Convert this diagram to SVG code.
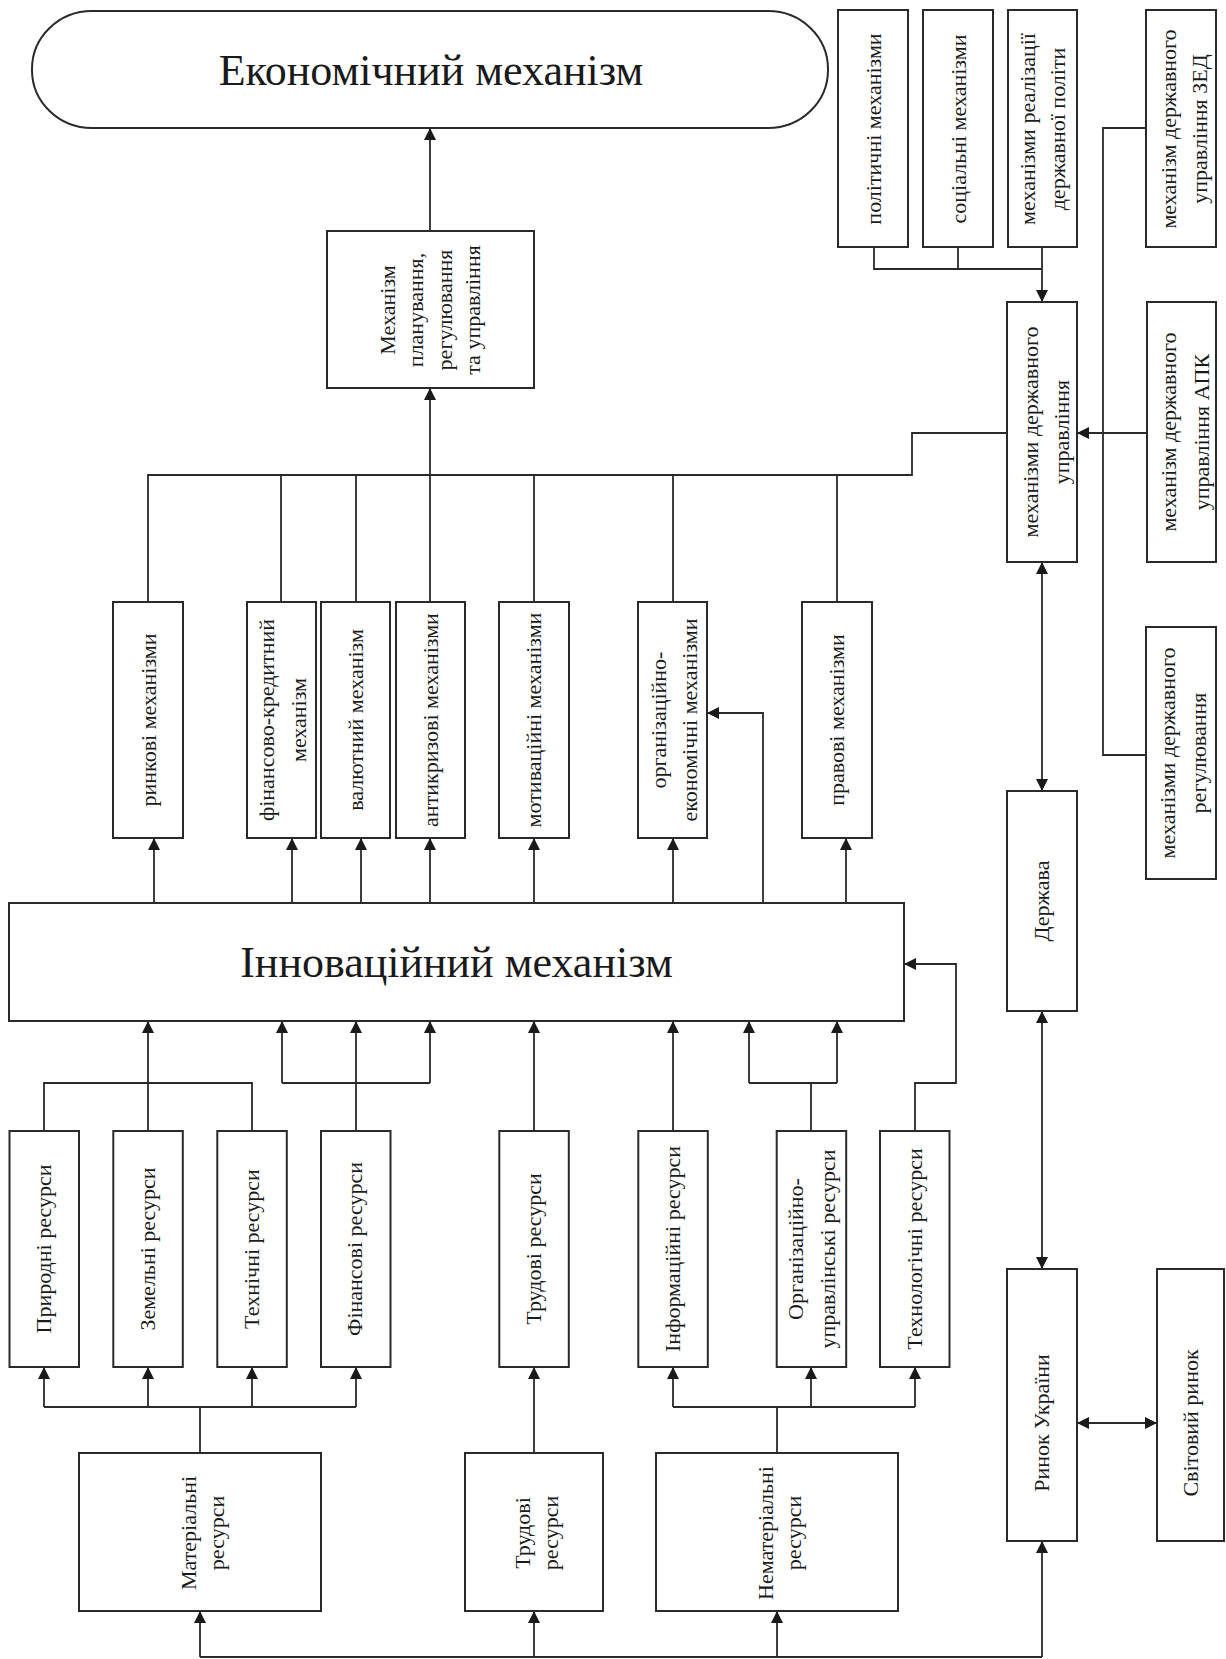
<svg xmlns="http://www.w3.org/2000/svg" width="1226" height="1659" viewBox="0 0 1226 1659">
<style>
.b{fill:#fff;stroke:#2a2a2a;stroke-width:2}
.c{fill:none;stroke:#2a2a2a;stroke-width:1.8}
.a{marker-end:url(#ah)}
.d{marker-start:url(#ah);marker-end:url(#ah)}
.t{font-family:"Liberation Serif","Times New Roman",serif;font-size:22px;fill:#1a1a1a;text-anchor:middle}
.big{font-size:44px}
</style>
<defs>
<marker id="ah" viewBox="0 0 12 12" refX="12" refY="6" markerWidth="12" markerHeight="12" markerUnits="userSpaceOnUse" orient="auto-start-reverse"><path d="M0,0 L12,6 L0,12 z" fill="#1a1a1a"/></marker>
</defs>
<rect width="1226" height="1659" fill="#fff"/>

<g id="connectors">
<path class="c a" d="M430,231 V128"/>
<path class="c" d="M148,602 V475 H912 V433 H1007"/>
<path class="c" d="M281,602 V475 M356,602 V475 M534,602 V475 M673,602 V475 M837,602 V475"/>
<path class="c a" d="M430,602 V388"/>
<path class="c a" d="M154,903 V838"/>
<path class="c a" d="M292,903 V838"/>
<path class="c a" d="M361,903 V838"/>
<path class="c a" d="M430,903 V838"/>
<path class="c a" d="M534,903 V838"/>
<path class="c a" d="M673,903 V838"/>
<path class="c a" d="M846,903 V838"/>
<path class="c a" d="M763,903 V713 H707"/>
<path class="c" d="M44,1131 V1083 H252 V1131"/>
<path class="c a" d="M148,1131 V1021"/>
<path class="c" d="M282,1083 H430"/>
<path class="c a" d="M282,1083 V1021"/>
<path class="c a" d="M430,1083 V1021"/>
<path class="c a" d="M356,1131 V1021"/>
<path class="c a" d="M534,1131 V1021"/>
<path class="c a" d="M673,1131 V1021"/>
<path class="c" d="M749,1083 H837 M811,1131 V1083"/>
<path class="c a" d="M749,1083 V1021"/>
<path class="c a" d="M837,1083 V1021"/>
<path class="c a" d="M915,1131 V1083 H956 V964 H904"/>
<path class="c" d="M44,1407 H356 M200,1453 V1407"/>
<path class="c a" d="M44,1407 V1367"/>
<path class="c a" d="M148,1407 V1367"/>
<path class="c a" d="M252,1407 V1367"/>
<path class="c a" d="M356,1407 V1367"/>
<path class="c a" d="M534,1453 V1367"/>
<path class="c" d="M673,1407 H915 M777,1453 V1407"/>
<path class="c a" d="M673,1407 V1367"/>
<path class="c a" d="M811,1407 V1367"/>
<path class="c a" d="M915,1407 V1367"/>
<path class="c" d="M200,1657 H1042"/>
<path class="c a" d="M200,1657 V1611"/>
<path class="c a" d="M534,1657 V1611"/>
<path class="c a" d="M777,1657 V1611"/>
<path class="c a" d="M1042,1657 V1541"/>
<path class="c" d="M874,247 V269 H1042 M958,247 V269"/>
<path class="c a" d="M1042,247 V302"/>
<path class="c" d="M1146,128 H1103 V755 H1146"/>
<path class="c a" d="M1147,433 H1077"/>
<path class="c d" d="M1042,562 V791"/>
<path class="c d" d="M1042,1011 V1269"/>
<path class="c d" d="M1077,1423 H1157"/>
</g>

<g id="n-econ"><rect class="b" x="32" y="11" width="796" height="117" rx="60" ry="58"/><text class="t big" x="431" y="85">Економічний механізм</text></g>

<g id="n-plan"><rect class="b" x="327" y="231" width="207" height="157"/><text class="t" transform="translate(430.5,310) rotate(-90)"><tspan x="0" y="-35.5">Механізм</tspan><tspan x="0" y="-7.2">планування,</tspan><tspan x="0" y="21.1">регулювання</tspan><tspan x="0" y="49.4">та управління</tspan></text></g>

<g id="n-market-mech"><rect class="b" x="113" y="602" width="70" height="236"/><text class="t" transform="translate(148,720) rotate(-90)"><tspan x="0" y="8">ринкові механізми</tspan></text></g>
<g id="n-fin-credit"><rect class="b" x="247" y="602" width="69" height="236"/><text class="t" transform="translate(281.5,720) rotate(-90)"><tspan x="0" y="-7.5">фінансово-кредитний</tspan><tspan x="0" y="24">механізм</tspan></text></g>
<g id="n-currency"><rect class="b" x="321" y="602" width="69" height="236"/><text class="t" transform="translate(355.5,720) rotate(-90)"><tspan x="0" y="7">валютний механізм</tspan></text></g>
<g id="n-anticrisis"><rect class="b" x="396" y="602" width="69" height="236"/><text class="t" transform="translate(430.5,720) rotate(-90)"><tspan x="0" y="7">антикризові механізми</tspan></text></g>
<g id="n-motiv"><rect class="b" x="499" y="602" width="70" height="236"/><text class="t" transform="translate(534,720) rotate(-90)"><tspan x="0" y="7">мотиваційні механізми</tspan></text></g>
<g id="n-org-econ"><rect class="b" x="638" y="602" width="69" height="236"/><text class="t" transform="translate(672.5,720) rotate(-90)"><tspan x="0" y="-6.5">організаційно-</tspan><tspan x="0" y="24">економічні механізми</tspan></text></g>
<g id="n-legal"><rect class="b" x="802" y="602" width="70" height="236"/><text class="t" transform="translate(837,720) rotate(-90)"><tspan x="0" y="7">правові механізми</tspan></text></g>

<g id="n-innov"><rect class="b" x="9" y="903" width="895" height="118"/><text class="t big" x="456.5" y="977">Інноваційний механізм</text></g>

<g id="n-natural"><rect class="b" x="9.5" y="1131" width="69.5" height="236"/><text class="t" transform="translate(44.3,1249) rotate(-90)"><tspan x="0" y="6.5">Природні ресурси</tspan></text></g>
<g id="n-land"><rect class="b" x="113.3" y="1131" width="69.5" height="236"/><text class="t" transform="translate(148,1249) rotate(-90)"><tspan x="0" y="6.5">Земельні ресурси</tspan></text></g>
<g id="n-tech"><rect class="b" x="217.3" y="1131" width="69.5" height="236"/><text class="t" transform="translate(252,1249) rotate(-90)"><tspan x="0" y="6.5">Технічні ресурси</tspan></text></g>
<g id="n-finres"><rect class="b" x="321" y="1131" width="69.5" height="236"/><text class="t" transform="translate(355.8,1249) rotate(-90)"><tspan x="0" y="6.5">Фінансові ресурси</tspan></text></g>
<g id="n-labor"><rect class="b" x="499.3" y="1131" width="69.5" height="236"/><text class="t" transform="translate(534,1249) rotate(-90)"><tspan x="0" y="7">Трудові ресурси</tspan></text></g>
<g id="n-info"><rect class="b" x="638.3" y="1131" width="69.5" height="236"/><text class="t" transform="translate(673,1249) rotate(-90)"><tspan x="0" y="7">Інформаційні ресурси</tspan></text></g>
<g id="n-org-man"><rect class="b" x="776.7" y="1131" width="69.5" height="236"/><text class="t" transform="translate(811.4,1249) rotate(-90)"><tspan x="0" y="-8">Організаційно-</tspan><tspan x="0" y="23.5">управлінські ресурси</tspan></text></g>
<g id="n-technol"><rect class="b" x="880" y="1131" width="69.5" height="236"/><text class="t" transform="translate(915,1249) rotate(-90)"><tspan x="0" y="6.5">Технологічні ресурси</tspan></text></g>

<g id="n-material"><rect class="b" x="79" y="1453" width="242" height="158"/><text class="t" transform="translate(200,1533) rotate(-90)"><tspan x="0" y="-4">Матеріальні</tspan><tspan x="0" y="24">ресурси</tspan></text></g>
<g id="n-labor2"><rect class="b" x="465" y="1453" width="138" height="158"/><text class="t" transform="translate(534,1533) rotate(-90)"><tspan x="0" y="-4">Трудові</tspan><tspan x="0" y="24">ресурси</tspan></text></g>
<g id="n-immaterial"><rect class="b" x="656" y="1453" width="242" height="158"/><text class="t" transform="translate(777,1533) rotate(-90)"><tspan x="0" y="-4">Нематеріальні</tspan><tspan x="0" y="24">ресурси</tspan></text></g>

<g id="n-political"><rect class="b" x="838" y="10" width="70" height="237"/><text class="t" transform="translate(873,129) rotate(-90)"><tspan x="0" y="8">політичні механізми</tspan></text></g>
<g id="n-social"><rect class="b" x="923" y="10" width="70" height="237"/><text class="t" transform="translate(958,129) rotate(-90)"><tspan x="0" y="8">соціальні механізми</tspan></text></g>
<g id="n-policy"><rect class="b" x="1008" y="10" width="69" height="237"/><text class="t" transform="translate(1042.5,129) rotate(-90)"><tspan x="0" y="-7.5">механізми реалізації</tspan><tspan x="0" y="22">державної політи</tspan></text></g>
<g id="n-zed"><rect class="b" x="1146" y="10" width="70" height="237"/><text class="t" transform="translate(1181,129) rotate(-90)"><tspan x="0" y="-5">механізм державного</tspan><tspan x="0" y="26">управління ЗЕД</tspan></text></g>

<g id="n-gov-mech"><rect class="b" x="1007" y="302" width="70" height="260"/><text class="t" transform="translate(1042,432) rotate(-90)"><tspan x="0" y="-4">механізми державного</tspan><tspan x="0" y="27">управління</tspan></text></g>
<g id="n-apk"><rect class="b" x="1147" y="302" width="69" height="260"/><text class="t" transform="translate(1181.5,432) rotate(-90)"><tspan x="0" y="-6">механізм державного</tspan><tspan x="0" y="27">управління АПК</tspan></text></g>
<g id="n-regul"><rect class="b" x="1146" y="627" width="70" height="252"/><text class="t" transform="translate(1181,753) rotate(-90)"><tspan x="0" y="-6">механізми державного</tspan><tspan x="0" y="25">регулювання</tspan></text></g>

<g id="n-state"><rect class="b" x="1007" y="791" width="70" height="220"/><text class="t" transform="translate(1042,901) rotate(-90)"><tspan x="0" y="7">Держава</tspan></text></g>
<g id="n-market-ua"><rect class="b" x="1007" y="1269" width="70" height="272"/><text class="t" transform="translate(1042,1423) rotate(-90)"><tspan x="0" y="7">Ринок України</tspan></text></g>
<g id="n-world"><rect class="b" x="1157" y="1269" width="67" height="272"/><text class="t" transform="translate(1190.5,1423) rotate(-90)"><tspan x="0" y="7">Світовий ринок</tspan></text></g>
</svg>
